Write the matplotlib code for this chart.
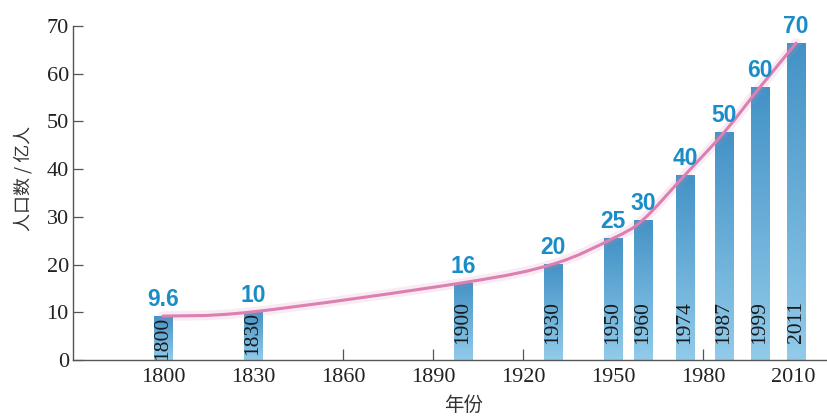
import numpy as np
import matplotlib
matplotlib.use("Agg")
import matplotlib.pyplot as plt
from matplotlib.path import Path
from matplotlib.patches import PathPatch

plt.rcParams['font.family'] = ['Noto Sans CJK SC', 'DejaVu Sans']

# ---- data ----
years = [1800, 1830, 1900, 1930, 1950, 1960, 1974, 1987, 1999, 2011]
bar_heights = [9.2, 10.1, 16.2, 20.1, 25.5, 29.4, 38.8, 47.7, 57.2, 66.4]
value_labels = ["9.6", "10", "16", "20", "25", "30", "40", "50", "60", "70"]
xticks = [1800, 1830, 1860, 1890, 1920, 1950, 1980, 2010]
yticks = [0, 10, 20, 30, 40, 50, 60, 70]

label_blue = "#1a8dc8"
curve_pink = "#dc7fb1"
serif = "Liberation Serif"

fig = plt.figure(figsize=(8.28, 4.18), dpi=100)
ax = fig.add_axes([73 / 828, 58 / 418, (827 - 73) / 828, (360 - 26) / 418])
ax.set_xlim(1770, 2021.3)
ax.set_ylim(0, 70)

# gradient bars
bar_w = 6.0
grad = np.linspace(0, 1, 256).reshape(-1, 1)
cmap = matplotlib.colors.LinearSegmentedColormap.from_list(
    "barg", ["#92cbea", "#4392c6"])
for x, h in zip(years, bar_heights):
    rect = plt.Rectangle((x - bar_w / 2, 0), bar_w, h, facecolor="none",
                         edgecolor="none")
    ax.add_patch(rect)
    im = ax.imshow(grad, extent=(x - bar_w / 2, x + bar_w / 2, 0, h),
                   origin="lower", cmap=cmap, aspect="auto", zorder=2)
    im.set_clip_path(rect)
    # year text inside bar
    top = min(h - 0.1, 12.3)
    ax.text(x, top, str(x), rotation=90, ha="center", va="top",
            fontsize=15.5, family=serif, color="#1a1a1a", zorder=4)

# smooth curve through bar tops (Catmull-Rom -> Bezier)
pts = np.column_stack([years, bar_heights]).astype(float)
verts = [tuple(pts[0])]
codes = [Path.MOVETO]
n = len(pts)
for i in range(n - 1):
    p0 = pts[i - 1] if i > 0 else pts[i]
    p1 = pts[i]
    p2 = pts[i + 1]
    p3 = pts[i + 2] if i + 2 < n else pts[i + 1]
    c1 = p1 + (p2 - p0) / 6.0
    c2 = p2 - (p3 - p1) / 6.0
    verts += [tuple(c1), tuple(c2), tuple(p2)]
    codes += [Path.CURVE4] * 3
path = Path(verts, codes)
ax.add_patch(PathPatch(path, facecolor="none", edgecolor=curve_pink,
                       lw=7, alpha=0.15, zorder=3, capstyle="round"))
ax.add_patch(PathPatch(path, facecolor="none", edgecolor=curve_pink,
                       lw=2.2, zorder=3, capstyle="round"))

# value labels
for x, h, lab in zip(years, bar_heights, value_labels):
    ax.text(x, h + 2.1, lab, ha="center", va="baseline", fontsize=16.5,
            fontweight="bold", family=["Liberation Sans", "DejaVu Sans"],
            color=label_blue, zorder=5)

# axes styling
for s in ["top", "right"]:
    ax.spines[s].set_visible(False)
for s in ["left", "bottom"]:
    ax.spines[s].set_color("#555555")
    ax.spines[s].set_linewidth(1.0)
ax.set_xticks(xticks)
ax.set_yticks(yticks)
ax.set_xticklabels([str(t) for t in xticks], family=serif, fontsize=16,
                   color="#222222")
ax.set_yticklabels([str(t) for t in yticks], family=serif, fontsize=16,
                   color="#222222")
ax.tick_params(axis="x", direction="in", length=8, width=0.9,
               color="#555555", pad=6)
ax.tick_params(axis="y", direction="in", length=7, width=0.9,
               color="#555555", pad=3)

fig.text(23 / 828, 1 - 178 / 418, "人口数 / 亿人", rotation=90,
         ha="center", va="center", fontsize=13, color="#333333")
fig.text(464 / 828, 1 - 405 / 418, "年份", ha="center", va="center",
         fontsize=14, color="#333333")

fig.savefig("out.png", dpi=100)
